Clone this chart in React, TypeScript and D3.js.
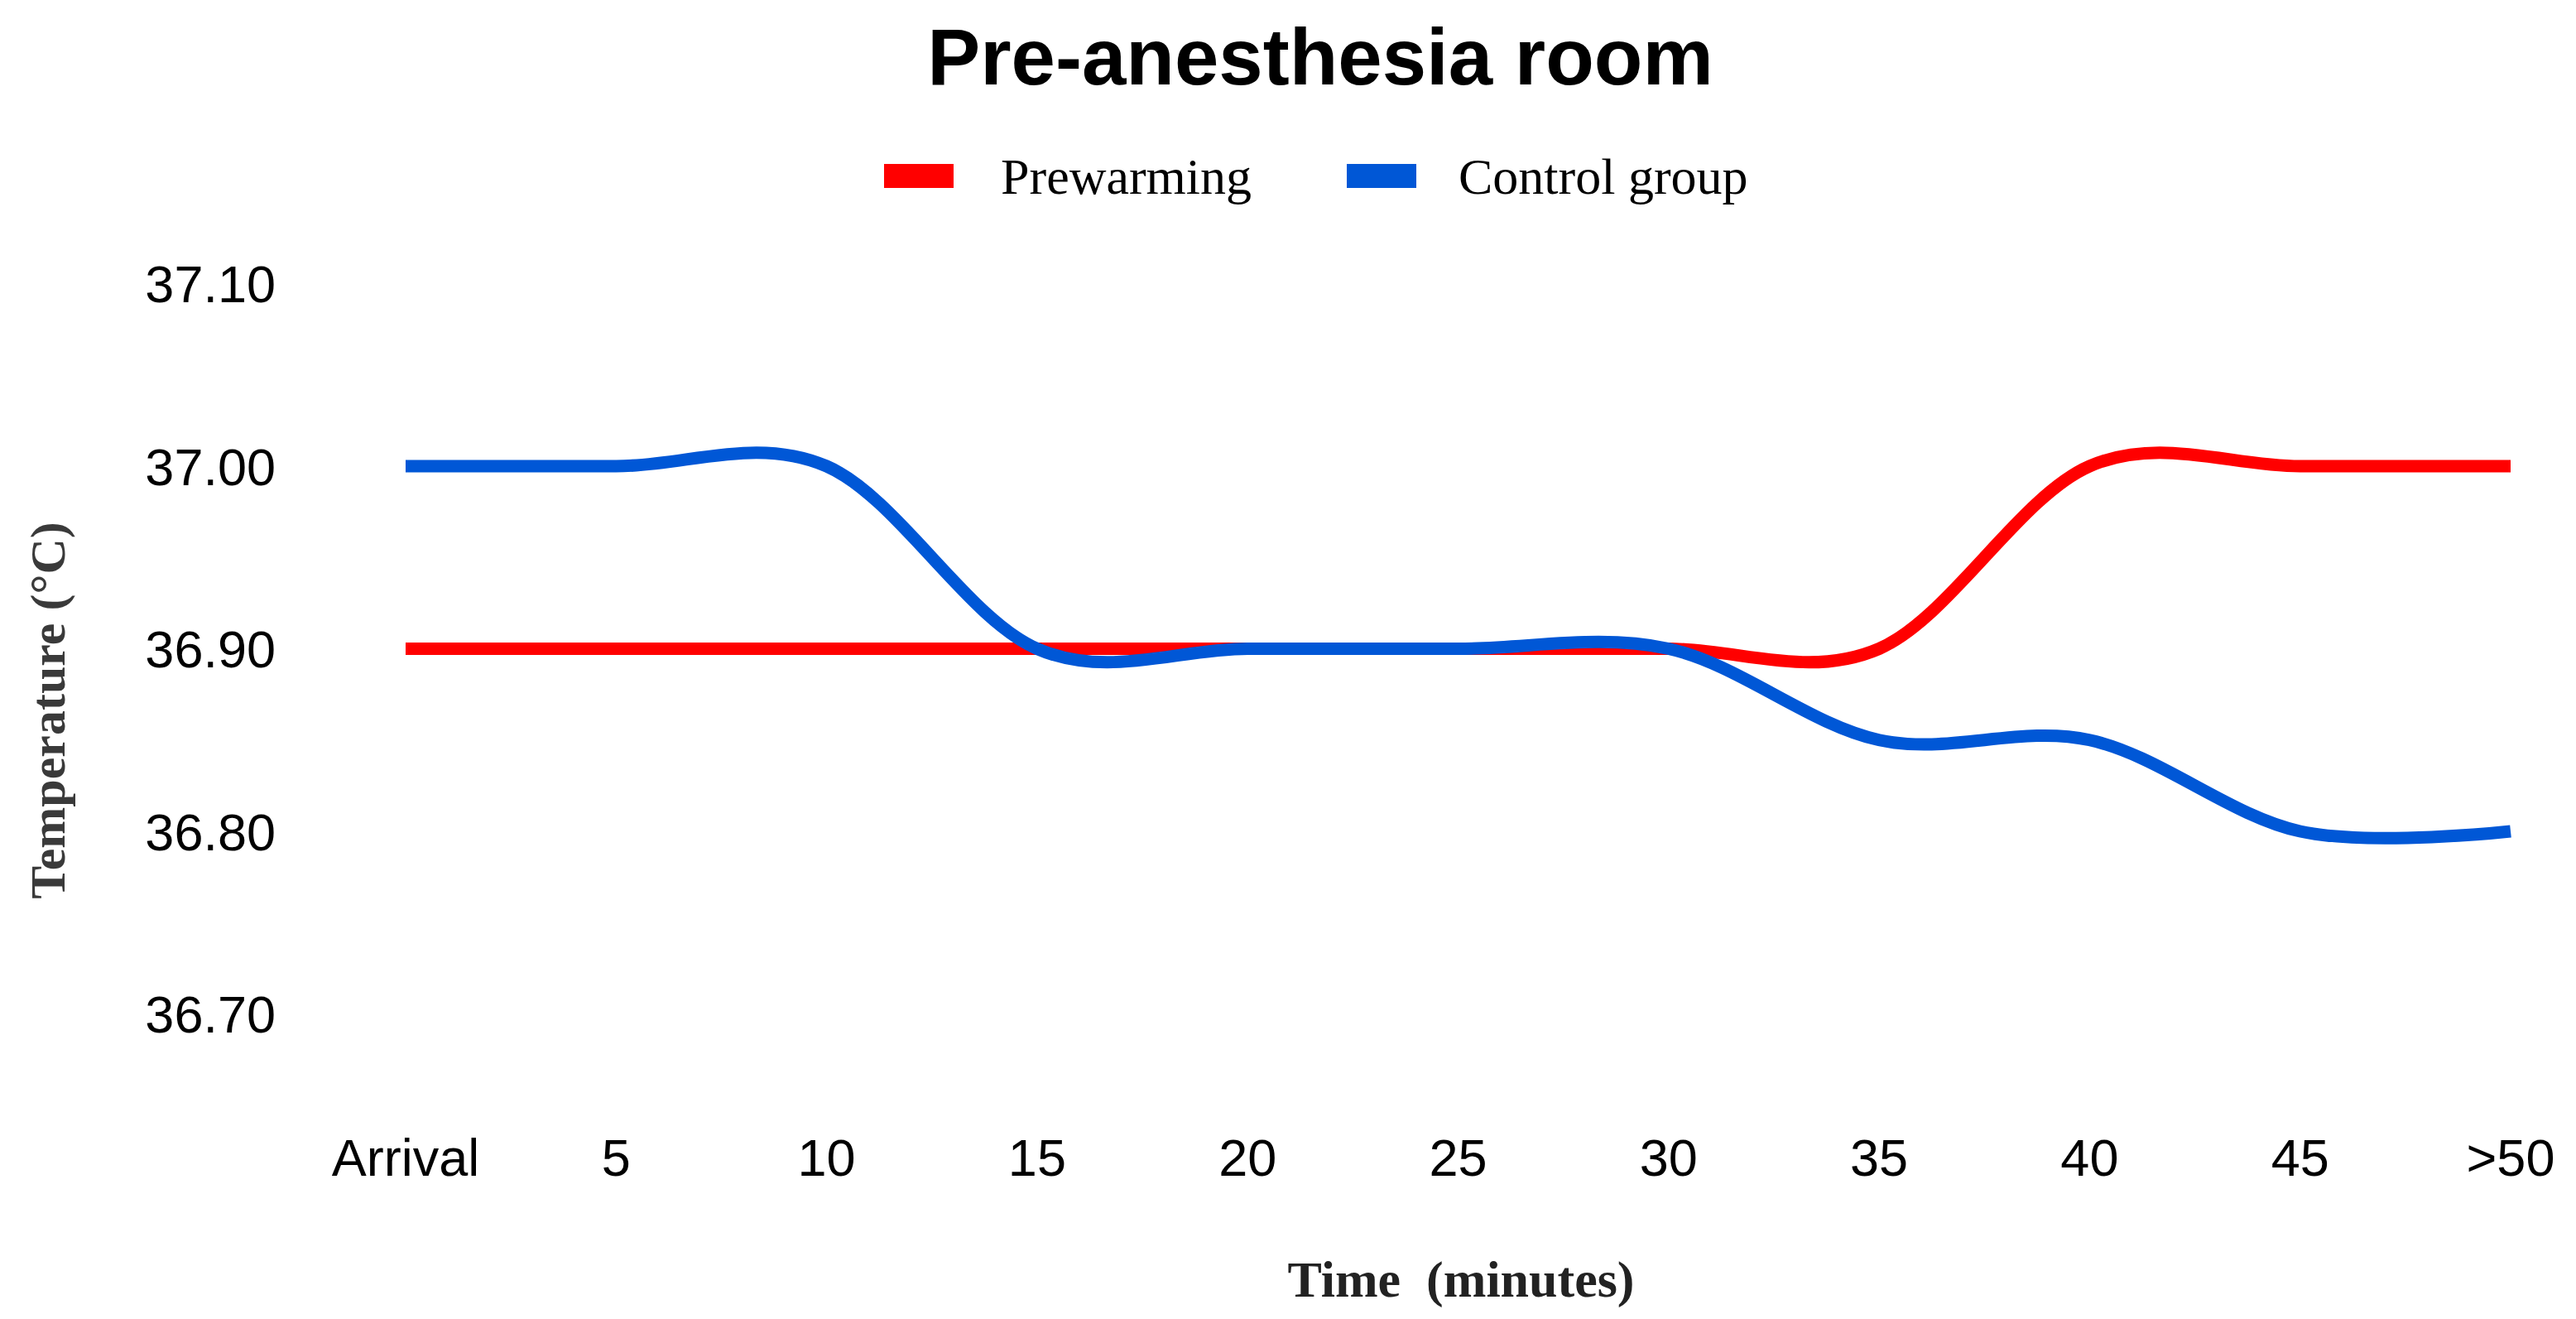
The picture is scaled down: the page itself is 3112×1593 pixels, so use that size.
import React, { useEffect } from "react";
import * as d3 from "d3";

const timeLabels = ["Arrival", "5", "10", "15", "20", "25", "30", "35", "40", "45", ">50"];
const prewarming = [36.9, 36.9, 36.9, 36.9, 36.9, 36.9, 36.9, 36.9, 37.0, 37.0, 37.0];
const controlGroup = [37.0, 37.0, 37.0, 36.9, 36.9, 36.9, 36.9, 36.85, 36.85, 36.8, 36.8];
const yTicks = [37.1, 37.0, 36.9, 36.8, 36.7];

const series = [
  { name: "Prewarming", values: prewarming, color: "#ff0000" },
  { name: "Control group", values: controlGroup, color: "#0057d6" },
];

const W = 3112;
const H = 1593;
const sans = "'Liberation Sans', Arial, sans-serif";
const serif = "'Liberation Serif', 'Times New Roman', serif";

export default function App() {
  useEffect(() => {
    document.body.style.margin = "0";
    document.body.style.overflow = "hidden";
  }, []);

  const x = d3.scalePoint<string>().domain(timeLabels).range([490, 3033]);
  // 37.00 sits at y=563, 36.80 at y=1004
  const y = d3.scaleLinear().domain([36.8, 37.0]).range([1004, 563]);

  const line = d3
    .line<number>()
    .x((_, i) => x(timeLabels[i])!)
    .y((d) => y(d))
    .curve(d3.curveCardinal.tension(0));

  // legend layout
  const legend = [
    { swatchX: 1068, textX: 1209 },
    { swatchX: 1627, textX: 1762 },
  ];

  return (
    <svg width={W} height={H} style={{ display: "block", background: "#fff" }}>
      <text x={1595} y={102} textAnchor="middle" fontFamily={sans} fontWeight="bold" fontSize={96} fill="#000">
        Pre-anesthesia room
      </text>

      {series.map((s, i) => (
        <g key={s.name}>
          <rect x={legend[i].swatchX} y={198} width={84} height={29} fill={s.color} />
          <text x={legend[i].textX} y={234} fontFamily={serif} fontSize={62} fill="#000">
            {s.name}
          </text>
        </g>
      ))}

      {yTicks.map((t) => (
        <text key={t} x={333} y={y(t)} dy="0.36em" textAnchor="end" fontFamily={sans} fontSize={63} fill="#000">
          {t.toFixed(2)}
        </text>
      ))}

      {timeLabels.map((l) => (
        <text key={l} x={x(l)} y={1420} textAnchor="middle" fontFamily={sans} fontSize={63} fill="#000">
          {l}
        </text>
      ))}

      <text
        transform={`translate(78,858) rotate(-90)`}
        textAnchor="middle"
        fontFamily={serif}
        fontWeight="bold"
        fontSize={60}
        fill="#3a3a3a"
      >
        Temperature (°C)
      </text>

      <text x={1765} y={1566} textAnchor="middle" fontFamily={serif} fontWeight="bold" fontSize={62} fill="#222" xmlSpace="preserve">
        Time  (minutes)
      </text>

      {series.map((s) => (
        <path key={s.name} d={line(s.values)!} fill="none" stroke={s.color} strokeWidth={15} />
      ))}
    </svg>
  );
}
